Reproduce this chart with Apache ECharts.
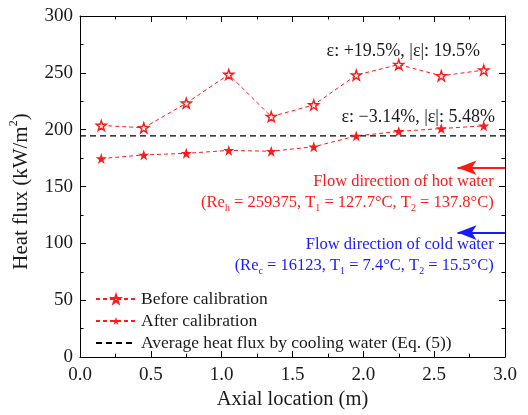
<!DOCTYPE html>
<html><head><meta charset="utf-8">
<script src="https://cdn.jsdelivr.net/npm/echarts@6/dist/echarts.min.js"></script>
<style>html,body{margin:0;padding:0;background:#fff}#c{width:528px;height:415px}</style>
</head><body><div id="c"></div>
<script>
const xLoc = [0.15,0.45,0.75,1.05,1.35,1.65,1.95,2.25,2.55,2.85];
const before = [203.7,201.7,223.3,248.6,211.5,221.8,248,257.3,247.4,252.4];
const after = [174.6,177.8,179.2,181.8,181,185,194.5,198.5,201,203.4];
const avgFlux = 194.5;
const avgRange = [0,3];
const STAR = 'path://M50,0 L61.8,35.3 L98.5,35.3 L68.8,57.1 L80.1,92.4 L50,70.6 L19.9,92.4 L31.2,57.1 L1.5,35.3 L38.2,35.3 Z';
const FONT = '"Liberation Serif","Times New Roman",serif';
const RED = '#ff1a1a', BLUE = '#1a1aff', INK = '#1a1a1a';
const NAMES = ['Before calibration','After calibration','Average heat flux by cooling water (Eq. (5))'];

const chart = echarts.init(document.getElementById('c'), null, {renderer:'canvas'});
const axCommon = {
  axisLine:{show:true,onZero:false,lineStyle:{color:'#000',width:1}},
  axisTick:{show:true,inside:true,length:6,lineStyle:{color:'#000'}},
  minorTick:{show:true,splitNumber:2,length:3.5,lineStyle:{color:'#000'}},
  splitLine:{show:false}
};
chart.setOption({
  animation:false,
  textStyle:{fontFamily:FONT},
  grid:{left:78,right:23,top:16,bottom:56},
  xAxis:[
    Object.assign({type:'value',min:0,max:3,interval:0.5,position:'bottom',
      name:'Axial location (m)',nameLocation:'middle',nameGap:31,
      nameTextStyle:{fontSize:20.5,color:INK,fontFamily:FONT},
      axisLabel:{fontSize:19,color:INK,fontFamily:FONT,margin:8,formatter:v=>v.toFixed(1)}},axCommon),
    Object.assign({type:'value',min:0,max:3,interval:0.5,position:'top',axisLabel:{show:false}},axCommon)
  ],
  yAxis:[
    Object.assign({type:'value',min:0,max:300,interval:50,position:'left',
      name:'{n|Heat flux (kW/m}{sup|2}{n|)}',nameLocation:'middle',nameGap:46,
      nameTextStyle:{fontSize:21,color:INK,fontFamily:FONT,padding:[0,10,0,0],
        rich:{n:{fontSize:21,color:INK,fontFamily:FONT,lineHeight:26},
              sup:{fontSize:12,color:INK,fontFamily:FONT,verticalAlign:'top',lineHeight:26}}},
      axisLabel:{fontSize:19,color:INK,fontFamily:FONT,margin:7}},axCommon),
    Object.assign({type:'value',min:0,max:300,interval:50,position:'right',axisLabel:{show:false}},axCommon)
  ],
  legend:{
    orient:'vertical',left:90,top:285,itemWidth:40,itemHeight:10,itemGap:4,
    textStyle:{fontSize:17.5,color:INK,fontFamily:FONT,lineHeight:17},
    data:[NAMES[0],NAMES[1],{name:NAMES[2],itemStyle:{opacity:0}}]
  },
  series:[
    {name:NAMES[0],type:'line',data:xLoc.map((x,i)=>[x,before[i]]),
      symbol:STAR,symbolSize:10,
      lineStyle:{color:RED,width:1,type:[4,3]},
      itemStyle:{color:'#fff',borderColor:RED,borderWidth:1.4}},
    {name:NAMES[1],type:'line',data:xLoc.map((x,i)=>[x,after[i]]),
      symbol:STAR,symbolSize:11,
      lineStyle:{color:RED,width:1,type:[4,3]},
      itemStyle:{color:RED,borderColor:RED,borderWidth:0}},
    {name:NAMES[2],type:'line',
      data:avgRange.map(x=>[x,avgFlux]),symbol:'none',
      lineStyle:{color:'#000',width:1.2,type:[6,4]},itemStyle:{color:'#000'},
      markLine:{silent:true,symbol:['none','arrow'],symbolSize:[11,19],label:{show:false},
        data:[
          [{coord:[3,166.5],lineStyle:{color:RED,width:2.2,type:'solid'},itemStyle:{color:RED}},{coord:[2.665,166.5]}],
          [{coord:[3,109.5],lineStyle:{color:BLUE,width:2.2,type:'solid'},itemStyle:{color:BLUE}},{coord:[2.665,109.5]}]
        ]}}
  ]
});

// annotation texts anchored in data coordinates (right-aligned)
const notes = [
  {pos:[2.824,269.2], text:'ε: +19.5%, |ε|: 19.5%', color:INK, size:18},
  {pos:[2.929,211], text:'ε: −3.14%, |ε|: 5.48%', color:INK, size:18},
  {pos:[2.92,154], text:'Flow direction of hot water', color:RED, size:16.5},
  {pos:[2.92,135.8], text:'{n|(Re}{s|h}{n| = 259375, T}{s|1}{n| = 127.7°C, T}{s|2}{n| = 137.8°C)}', color:RED, size:16.5},
  {pos:[2.92,99], text:'Flow direction of cold water', color:BLUE, size:16.5},
  {pos:[2.92,80.5], text:'{n|(Re}{s|c}{n| = 16123, T}{s|1}{n| = 7.4°C, T}{s|2}{n| = 15.5°C)}', color:BLUE, size:16.5}
];
const g = notes.map(n=>{
  const p = chart.convertToPixel({xAxisIndex:0,yAxisIndex:0}, n.pos);
  return {type:'text',x:p[0],y:p[1],style:{text:n.text,fill:n.color,font:n.size+'px '+FONT,
    align:'right',verticalAlign:'middle',
    rich:{n:{fontSize:n.size,fill:n.color,fontFamily:FONT,lineHeight:22},
          s:{fontSize:10,fill:n.color,fontFamily:FONT,lineHeight:22,verticalAlign:'bottom'}}}};
});
chart.setOption({graphic:g});
</script></body></html>
